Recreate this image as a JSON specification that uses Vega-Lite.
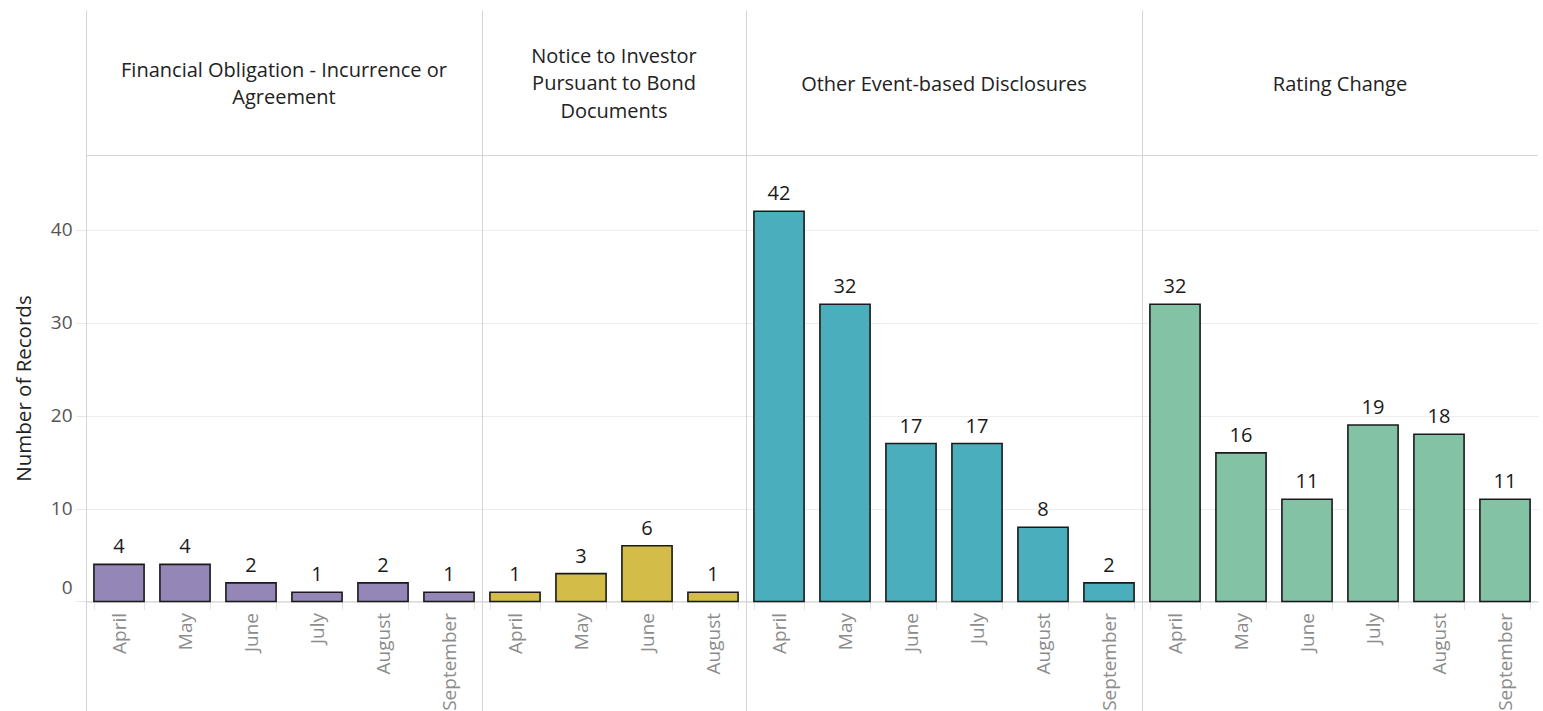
{
  "$schema": "https://vega.github.io/schema/vega-lite/v6.json",
  "autosize": {"type": "none"},
  "padding": {"left": 86, "top": 10, "right": 1457, "bottom": 701},
  "background": "white",
  "bounds": "flush",
  "spacing": 0,
  "config": {
    "view": {"stroke": null},
    "font": "Open Sans"
  },
  "datasets": {
    "records": [
      {"category": "Financial Obligation - Incurrence or Agreement", "month": "April", "records": 4},
      {"category": "Financial Obligation - Incurrence or Agreement", "month": "May", "records": 4},
      {"category": "Financial Obligation - Incurrence or Agreement", "month": "June", "records": 2},
      {"category": "Financial Obligation - Incurrence or Agreement", "month": "July", "records": 1},
      {"category": "Financial Obligation - Incurrence or Agreement", "month": "August", "records": 2},
      {"category": "Financial Obligation - Incurrence or Agreement", "month": "September", "records": 1},
      {"category": "Notice to Investor Pursuant to Bond Documents", "month": "April", "records": 1},
      {"category": "Notice to Investor Pursuant to Bond Documents", "month": "May", "records": 3},
      {"category": "Notice to Investor Pursuant to Bond Documents", "month": "June", "records": 6},
      {"category": "Notice to Investor Pursuant to Bond Documents", "month": "August", "records": 1},
      {"category": "Other Event-based Disclosures", "month": "April", "records": 42},
      {"category": "Other Event-based Disclosures", "month": "May", "records": 32},
      {"category": "Other Event-based Disclosures", "month": "June", "records": 17},
      {"category": "Other Event-based Disclosures", "month": "July", "records": 17},
      {"category": "Other Event-based Disclosures", "month": "August", "records": 8},
      {"category": "Other Event-based Disclosures", "month": "September", "records": 2},
      {"category": "Rating Change", "month": "April", "records": 32},
      {"category": "Rating Change", "month": "May", "records": 16},
      {"category": "Rating Change", "month": "June", "records": 11},
      {"category": "Rating Change", "month": "July", "records": 19},
      {"category": "Rating Change", "month": "August", "records": 18},
      {"category": "Rating Change", "month": "September", "records": 11}
    ],
    "headers": [
      {"category": "Financial Obligation - Incurrence or Agreement", "label": "Financial Obligation - Incurrence or\nAgreement"},
      {"category": "Notice to Investor Pursuant to Bond Documents", "label": "Notice to Investor\nPursuant to Bond\nDocuments"},
      {"category": "Other Event-based Disclosures", "label": "Other Event-based Disclosures"},
      {"category": "Rating Change", "label": "Rating Change"}
    ]
  },
  "hconcat": [
    {
      "width": 396, "height": 702,
      "layer": [
        {
          "data": {"name": "records"},
          "transform": [{"filter": "datum.category === 'Financial Obligation - Incurrence or Agreement'"}],
          "encoding": {
            "x": {"field": "month", "type": "nominal", "sort": ["April","May","June","July","August","September"], "title": null,
                  "scale": {"paddingInner": 0.24, "paddingOuter": 0.12},
                  "axis": {"orient": "bottom", "offset": -110.5, "labelAngle": -90, "labelFontSize": 19, "labelColor": "#8c8c8c", "labelPadding": 3, "tickBand": "extent", "tickSize": 8, "tickColor": "#e4e4e4", "domainColor": "#cccccc", "grid": false}},
            "y": {"field": "records", "type": "quantitative",
                  "scale": {"domain": [-11.895, 63.67], "nice": false, "zero": false},
                  "axis": {"title": "Number of Records", "values": [0,10,20,30,40], "grid": true, "gridColor": "#ededed",
                           "domain": true, "domainColor": "#d4d4d4", "tickColor": "#e6e6e6", "tickSize": 10,
                           "labelColor": "#555555", "labelFontSize": 19, "labelPadding": 4,
                           "labelOffset": {"condition": {"test": "datum.value === 0", "value": -14}, "value": 0},
                           "titleFontSize": 20.5, "titleColor": "#222222", "titleFontWeight": "normal", "titlePadding": 16, "titleY": 378}}
          },
          "layer": [
            {"mark": {"type": "bar", "stroke": "#1a1a1a", "strokeWidth": 1.6},
             "encoding": {"y2": {"datum": 0},
                          "color": {"field": "category", "type": "nominal", "legend": null,
                                    "scale": {"domain": ["Financial Obligation - Incurrence or Agreement", "Notice to Investor Pursuant to Bond Documents", "Other Event-based Disclosures", "Rating Change"],
                                              "range": ["#9486b6", "#d3bc47", "#4aaebc", "#84c2a6"]}}}},
            {"mark": {"type": "text", "baseline": "alphabetic", "dy": -11, "fontSize": 20, "color": "#1a1a1a"},
             "encoding": {"text": {"field": "records", "type": "quantitative"}}}
          ]
        },
        {
          "data": {"name": "headers"},
          "transform": [{"filter": "datum.category === 'Financial Obligation - Incurrence or Agreement'"}],
          "layer": [
            {"mark": {"type": "rule", "color": "#d4d4d4", "strokeWidth": 1},
             "encoding": {"y": {"datum": 48, "type": "quantitative", "scale": {"domain": [-11.895, 63.67], "nice": false, "zero": false}, "axis": null}}},
            {"mark": {"type": "text", "lineBreak": "\n", "fontSize": 20, "lineHeight": 27, "baseline": "middle", "align": "center", "dy": -13.5, "color": "#222222"},
             "encoding": {"x": {"field": "category", "type": "nominal", "axis": null},
                          "y": {"datum": 55.7, "type": "quantitative", "scale": {"domain": [-11.895, 63.67], "nice": false, "zero": false}, "axis": null},
                          "text": {"field": "label", "type": "nominal"}}}
          ]
        }
      ],
      "resolve": {"scale": {"x": "independent"}, "axis": {"y": "independent"}}
    },
    {
      "width": 264, "height": 702,
      "layer": [
        {
          "data": {"name": "records"},
          "transform": [{"filter": "datum.category === 'Notice to Investor Pursuant to Bond Documents'"}],
          "encoding": {
            "x": {"field": "month", "type": "nominal", "sort": ["April","May","June","July","August","September"], "title": null,
                  "scale": {"paddingInner": 0.24, "paddingOuter": 0.12},
                  "axis": {"orient": "bottom", "offset": -110.5, "labelAngle": -90, "labelFontSize": 19, "labelColor": "#8c8c8c", "labelPadding": 3, "tickBand": "extent", "tickSize": 8, "tickColor": "#e4e4e4", "domainColor": "#cccccc", "grid": false}},
            "y": {"field": "records", "type": "quantitative",
                  "scale": {"domain": [-11.895, 63.67], "nice": false, "zero": false},
                  "axis": {"title": null, "values": [0,10,20,30,40], "grid": true, "gridColor": "#ededed", "labels": false, "ticks": false, "domain": true, "domainColor": "#d4d4d4"}}
          },
          "layer": [
            {"mark": {"type": "bar", "stroke": "#1a1a1a", "strokeWidth": 1.6},
             "encoding": {"y2": {"datum": 0},
                          "color": {"field": "category", "type": "nominal", "legend": null,
                                    "scale": {"domain": ["Financial Obligation - Incurrence or Agreement", "Notice to Investor Pursuant to Bond Documents", "Other Event-based Disclosures", "Rating Change"],
                                              "range": ["#9486b6", "#d3bc47", "#4aaebc", "#84c2a6"]}}}},
            {"mark": {"type": "text", "baseline": "alphabetic", "dy": -11, "fontSize": 20, "color": "#1a1a1a"},
             "encoding": {"text": {"field": "records", "type": "quantitative"}}}
          ]
        },
        {
          "data": {"name": "headers"},
          "transform": [{"filter": "datum.category === 'Notice to Investor Pursuant to Bond Documents'"}],
          "layer": [
            {"mark": {"type": "rule", "color": "#d4d4d4", "strokeWidth": 1},
             "encoding": {"y": {"datum": 48, "type": "quantitative", "scale": {"domain": [-11.895, 63.67], "nice": false, "zero": false}, "axis": null}}},
            {"mark": {"type": "text", "lineBreak": "\n", "fontSize": 20, "lineHeight": 27.5, "baseline": "middle", "align": "center", "dy": -27.5, "color": "#222222"},
             "encoding": {"x": {"field": "category", "type": "nominal", "axis": null},
                          "y": {"datum": 55.7, "type": "quantitative", "scale": {"domain": [-11.895, 63.67], "nice": false, "zero": false}, "axis": null},
                          "text": {"field": "label", "type": "nominal"}}}
          ]
        }
      ],
      "resolve": {"scale": {"x": "independent"}, "axis": {"y": "independent"}}
    },
    {
      "width": 396, "height": 702,
      "layer": [
        {
          "data": {"name": "records"},
          "transform": [{"filter": "datum.category === 'Other Event-based Disclosures'"}],
          "encoding": {
            "x": {"field": "month", "type": "nominal", "sort": ["April","May","June","July","August","September"], "title": null,
                  "scale": {"paddingInner": 0.24, "paddingOuter": 0.12},
                  "axis": {"orient": "bottom", "offset": -110.5, "labelAngle": -90, "labelFontSize": 19, "labelColor": "#8c8c8c", "labelPadding": 3, "tickBand": "extent", "tickSize": 8, "tickColor": "#e4e4e4", "domainColor": "#cccccc", "grid": false}},
            "y": {"field": "records", "type": "quantitative",
                  "scale": {"domain": [-11.895, 63.67], "nice": false, "zero": false},
                  "axis": {"title": null, "values": [0,10,20,30,40], "grid": true, "gridColor": "#ededed", "labels": false, "ticks": false, "domain": true, "domainColor": "#d4d4d4"}}
          },
          "layer": [
            {"mark": {"type": "bar", "stroke": "#1a1a1a", "strokeWidth": 1.6},
             "encoding": {"y2": {"datum": 0},
                          "color": {"field": "category", "type": "nominal", "legend": null,
                                    "scale": {"domain": ["Financial Obligation - Incurrence or Agreement", "Notice to Investor Pursuant to Bond Documents", "Other Event-based Disclosures", "Rating Change"],
                                              "range": ["#9486b6", "#d3bc47", "#4aaebc", "#84c2a6"]}}}},
            {"mark": {"type": "text", "baseline": "alphabetic", "dy": -11, "fontSize": 20, "color": "#1a1a1a"},
             "encoding": {"text": {"field": "records", "type": "quantitative"}}}
          ]
        },
        {
          "data": {"name": "headers"},
          "transform": [{"filter": "datum.category === 'Other Event-based Disclosures'"}],
          "layer": [
            {"mark": {"type": "rule", "color": "#d4d4d4", "strokeWidth": 1},
             "encoding": {"y": {"datum": 48, "type": "quantitative", "scale": {"domain": [-11.895, 63.67], "nice": false, "zero": false}, "axis": null}}},
            {"mark": {"type": "text", "lineBreak": "\n", "fontSize": 20, "lineHeight": 27, "baseline": "middle", "align": "center", "dy": 1, "color": "#222222"},
             "encoding": {"x": {"field": "category", "type": "nominal", "axis": null},
                          "y": {"datum": 55.7, "type": "quantitative", "scale": {"domain": [-11.895, 63.67], "nice": false, "zero": false}, "axis": null},
                          "text": {"field": "label", "type": "nominal"}}}
          ]
        }
      ],
      "resolve": {"scale": {"x": "independent"}, "axis": {"y": "independent"}}
    },
    {
      "width": 396, "height": 702,
      "layer": [
        {
          "data": {"name": "records"},
          "transform": [{"filter": "datum.category === 'Rating Change'"}],
          "encoding": {
            "x": {"field": "month", "type": "nominal", "sort": ["April","May","June","July","August","September"], "title": null,
                  "scale": {"paddingInner": 0.24, "paddingOuter": 0.12},
                  "axis": {"orient": "bottom", "offset": -110.5, "labelAngle": -90, "labelFontSize": 19, "labelColor": "#8c8c8c", "labelPadding": 3, "tickBand": "extent", "tickSize": 8, "tickColor": "#e4e4e4", "domainColor": "#cccccc", "grid": false}},
            "y": {"field": "records", "type": "quantitative",
                  "scale": {"domain": [-11.895, 63.67], "nice": false, "zero": false},
                  "axis": {"title": null, "values": [0,10,20,30,40], "grid": true, "gridColor": "#ededed", "labels": false, "ticks": false, "domain": true, "domainColor": "#d4d4d4"}}
          },
          "layer": [
            {"mark": {"type": "bar", "stroke": "#1a1a1a", "strokeWidth": 1.6},
             "encoding": {"y2": {"datum": 0},
                          "color": {"field": "category", "type": "nominal", "legend": null,
                                    "scale": {"domain": ["Financial Obligation - Incurrence or Agreement", "Notice to Investor Pursuant to Bond Documents", "Other Event-based Disclosures", "Rating Change"],
                                              "range": ["#9486b6", "#d3bc47", "#4aaebc", "#84c2a6"]}}}},
            {"mark": {"type": "text", "baseline": "alphabetic", "dy": -11, "fontSize": 20, "color": "#1a1a1a"},
             "encoding": {"text": {"field": "records", "type": "quantitative"}}}
          ]
        },
        {
          "data": {"name": "headers"},
          "transform": [{"filter": "datum.category === 'Rating Change'"}],
          "layer": [
            {"mark": {"type": "rule", "color": "#d4d4d4", "strokeWidth": 1},
             "encoding": {"y": {"datum": 48, "type": "quantitative", "scale": {"domain": [-11.895, 63.67], "nice": false, "zero": false}, "axis": null}}},
            {"mark": {"type": "text", "lineBreak": "\n", "fontSize": 20, "lineHeight": 27, "baseline": "middle", "align": "center", "dy": 1, "color": "#222222"},
             "encoding": {"x": {"field": "category", "type": "nominal", "axis": null},
                          "y": {"datum": 55.7, "type": "quantitative", "scale": {"domain": [-11.895, 63.67], "nice": false, "zero": false},
                                "axis": {"orient": "right", "title": null, "labels": false, "ticks": false, "grid": false, "domain": true, "domainColor": "#d4d4d4"}},
                          "text": {"field": "label", "type": "nominal"}}}
          ]
        }
      ],
      "resolve": {"scale": {"x": "independent"}, "axis": {"y": "independent"}}
    }
  ]
}
